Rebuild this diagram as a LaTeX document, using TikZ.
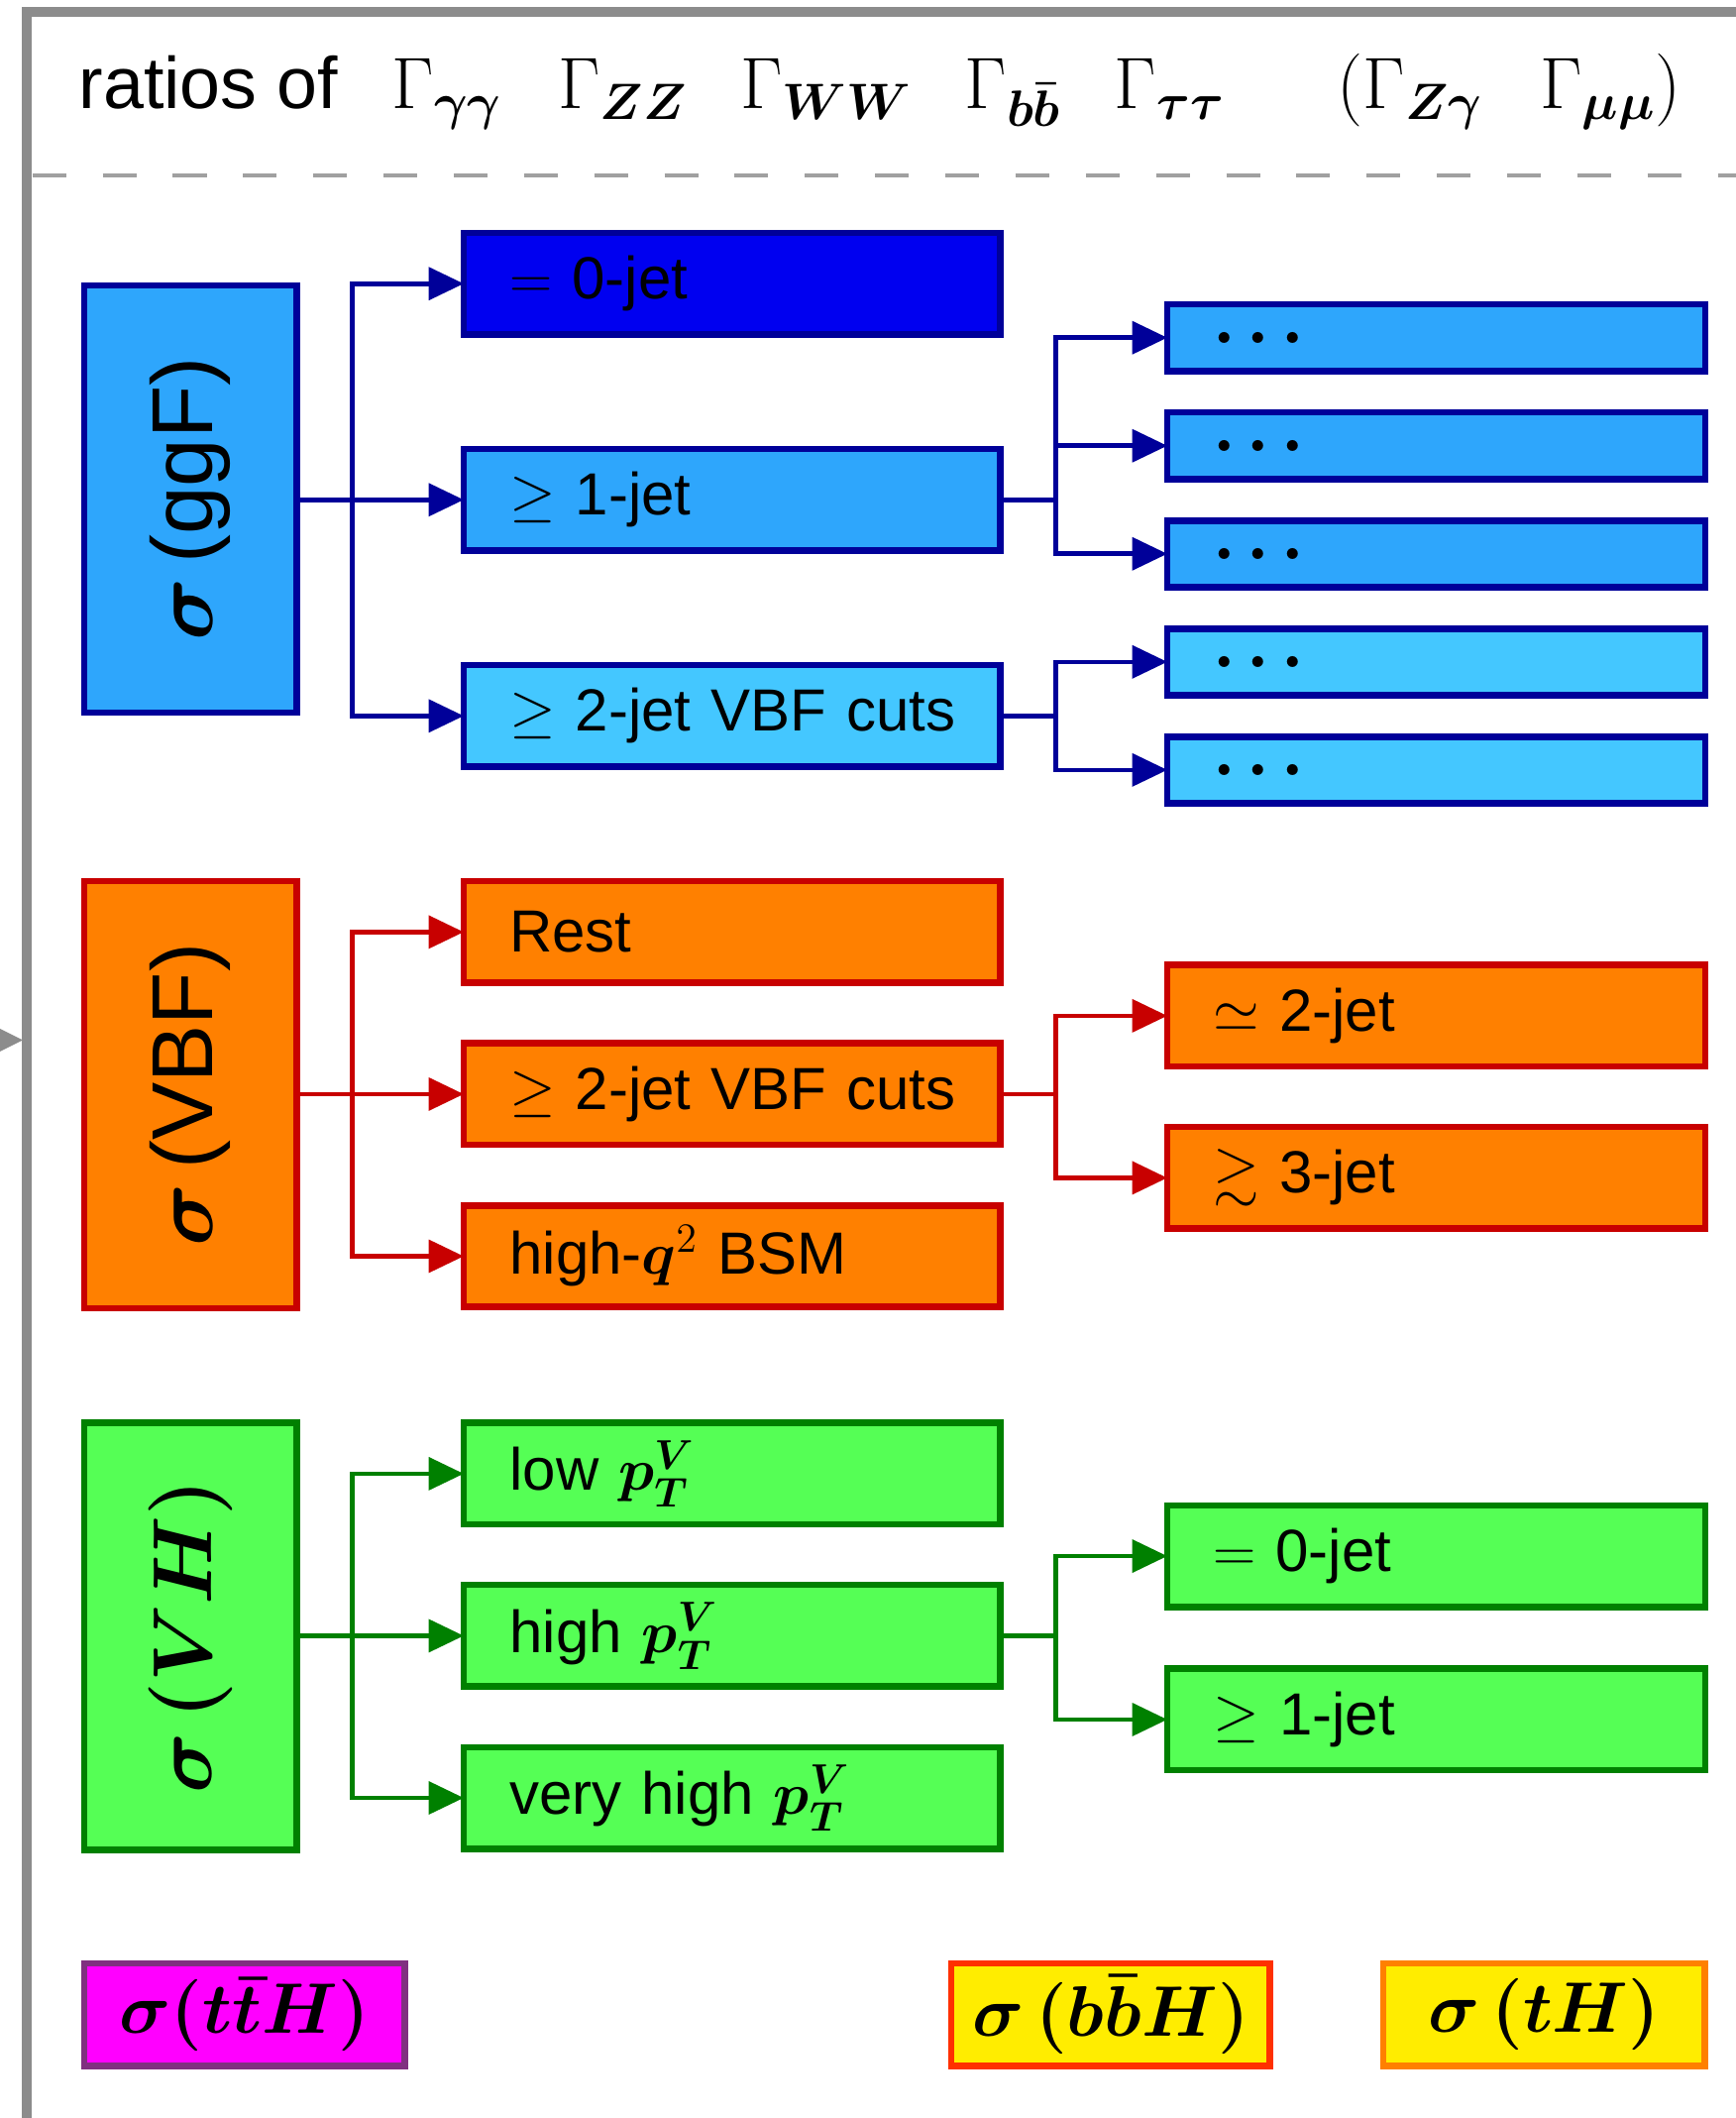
\RequirePackage{fix-cm}
\documentclass[tikz,border=0pt]{standalone}
\usepackage{amsmath,amssymb,bm}
\usepackage[no-math]{fontspec}
\setmainfont{Liberation Sans}
\usetikzlibrary{arrows.meta}
\definecolor{navy}{RGB}{0,0,153}
\definecolor{ggfblue}{RGB}{46,166,252}
\definecolor{zerojet}{RGB}{0,0,240}
\definecolor{cyanb}{RGB}{68,199,255}
\definecolor{orangef}{RGB}{255,128,0}
\definecolor{redb}{RGB}{200,0,0}
\definecolor{greenf}{RGB}{85,255,85}
\definecolor{greenb}{RGB}{0,128,0}
\definecolor{magf}{RGB}{255,0,255}
\definecolor{purb}{RGB}{128,48,128}
\definecolor{yelf}{RGB}{255,237,0}
\definecolor{bbhb}{RGB}{255,48,0}
\definecolor{thb}{RGB}{255,128,0}
\definecolor{framegray}{RGB}{140,140,140}
\definecolor{dashgray}{RGB}{160,160,160}
\newcommand\bdots{$\bm{\ldotp\ldotp\ldotp}$}
\begin{document}
\begin{tikzpicture}[x=0.5pt,y=-0.5pt,
  box/.style={draw, line width=2.4pt, outer sep=0pt, anchor=north west, inner xsep=17pt, inner ysep=0pt,
    align=left, font=\fontsize{22}{26}\selectfont},
  wide/.style={box, minimum width=198.6pt, text width=164.6pt},
  rwide/.style={box, minimum width=199.1pt, text width=165.1pt},
  tall/.style={minimum height=37.6pt},
  short/.style={minimum height=24.6pt},
  dots/.style={font=\fontsize{26}{30}\selectfont},
  side/.style={draw, line width=2.4pt, outer sep=0pt, anchor=north west, minimum width=78.6pt,
    minimum height=158pt, inner sep=0pt, font=\fontsize{32}{36}\selectfont},
  bottombox/.style={draw, line width=2.4pt, outer sep=0pt, anchor=north west, minimum height=38pt,
    inner sep=0pt, font=\fontsize{26.5}{30}\selectfont},
  arr/.style={line width=1.7pt, -{Triangle[length=13pt,width=12pt]}},
  ln/.style={line width=1.7pt}]
\useasboundingbox (0,0) rectangle (1285,1568);

% frame
\coordinate (fb) at (20,1580);
\coordinate (fc) at (20,9);
\coordinate (fr) at (1300,9);
\draw[framegray, line width=3.7pt] (fb) -- (fc) -- (fr);
\coordinate (dl) at (24,130);
\coordinate (dr) at (1300,130);
\draw[dashgray, line width=1.3pt, dash pattern=on 12.5pt off 13.5pt] (dl) -- (dr);
\coordinate (ein) at (-30,770);
\coordinate (eout) at (17,770);
\draw[framegray, line width=1.5pt, -{Triangle[length=8.5pt,width=8pt]}] (ein) -- (eout);

% header
\node[anchor=base west, inner sep=0pt, font=\fontsize{27}{32}\selectfont] (head) at (58,80)
 {\makebox[116pt][l]{ratios of}%
  \makebox[61.5pt][l]{$\Gamma_{\bm{\gamma\gamma}}$}%
  \makebox[67.5pt][l]{$\Gamma_{\bm{ZZ}}$}%
  \makebox[83pt][l]{$\Gamma_{\bm{WW}}$}%
  \makebox[55.5pt][l]{$\Gamma_{\bm{b\bar b}}$}%
  \makebox[82.5pt][l]{$\Gamma_{\bm{\tau\tau}}$}%
  \makebox[75pt][l]{$(\Gamma_{\bm{Z\gamma}}$}%
  $\Gamma_{\bm{\mu\mu}})$};

% ggF
\node[side, fill=ggfblue, draw=navy] (ggF) at (62.4,211.4) {\rotatebox{90}{$\bm{\sigma}$\,(ggF)}};
\node[wide, tall, fill=zerojet, draw=navy] (g0) at (343.4,172.4) {$=$ 0-jet};
\node[wide, tall, fill=ggfblue, draw=navy] (g1) at (343.4,332.4) {$\geq$ 1-jet};
\node[wide, tall, fill=cyanb, draw=navy] (g2) at (343.4,492.4) {\mbox{$\geq$ 2-jet VBF cuts}};
\node[rwide, short, dots, fill=ggfblue, draw=navy] (r1) at (864.4,225.4) {\bdots};
\node[rwide, short, dots, fill=ggfblue, draw=navy] (r2) at (864.4,305.4) {\bdots};
\node[rwide, short, dots, fill=ggfblue, draw=navy] (r3) at (864.4,385.4) {\bdots};
\node[rwide, short, dots, fill=cyanb, draw=navy] (r4) at (864.4,465.4) {\bdots};
\node[rwide, short, dots, fill=cyanb, draw=navy] (r5) at (864.4,545.4) {\bdots};
\coordinate (jg) at (261,370);
\coordinate (kg) at (782,370);
\coordinate (kg2) at (782,530);
\begin{scope}[navy]
\draw[arr] (ggF.east |- g1.west) -- (g1.west);
\draw[arr] (jg) |- (g0.west);
\draw[arr] (jg) |- (g2.west);
\draw[ln] (g1.east) -- (kg);
\draw[arr] (kg) |- (r1.west);
\draw[arr] (kg) |- (r2.west);
\draw[arr] (kg) |- (r3.west);
\draw[ln] (g2.east) -- (kg2);
\draw[arr] (kg2) |- (r4.west);
\draw[arr] (kg2) |- (r5.west);
\end{scope}

% VBF
\node[side, fill=orangef, draw=redb] (vbf) at (62.4,652.4) {\rotatebox{90}{$\bm{\sigma}$\,(VBF)}};
\node[wide, tall, fill=orangef, draw=redb] (v0) at (343.4,652.4) {Rest};
\node[wide, tall, fill=orangef, draw=redb] (v1) at (343.4,772.4) {\mbox{$\geq$ 2-jet VBF cuts}};
\node[wide, tall, fill=orangef, draw=redb] (v2) at (343.4,892.4) {high-$\bm{q}^2$ BSM};
\node[rwide, tall, fill=orangef, draw=redb] (vr1) at (864.4,714.4) {$\simeq$ 2-jet};
\node[rwide, tall, fill=orangef, draw=redb] (vr2) at (864.4,834.4) {$\gtrsim$ 3-jet};
\coordinate (jv) at (261,810);
\coordinate (kv) at (782,810);
\begin{scope}[redb]
\draw[arr] (vbf.east |- v1.west) -- (v1.west);
\draw[arr] (jv) |- (v0.west);
\draw[arr] (jv) |- (v2.west);
\draw[ln] (v1.east) -- (kv);
\draw[arr] (kv) |- (vr1.west);
\draw[arr] (kv) |- (vr2.west);
\end{scope}

% VH
\node[side, fill=greenf, draw=greenb, font=\fontsize{31}{35}\selectfont] (vh) at (62.4,1053.4) {\rotatebox{90}{$\bm{\sigma\,(VH)}$}};
\node[wide, tall, fill=greenf, draw=greenb] (h0) at (343.4,1053.4) {low $\bm{p_T^V}$};
\node[wide, tall, fill=greenf, draw=greenb] (h1) at (343.4,1173.4) {high $\bm{p_T^V}$};
\node[wide, tall, fill=greenf, draw=greenb] (h2) at (343.4,1293.4) {very high $\bm{p_T^V}$};
\node[rwide, tall, fill=greenf, draw=greenb] (hr1) at (864.4,1114.4) {$=$ 0-jet};
\node[rwide, tall, fill=greenf, draw=greenb] (hr2) at (864.4,1235.4) {$\geq$ 1-jet};
\coordinate (jh) at (261,1211);
\coordinate (kh) at (782,1211);
\begin{scope}[greenb]
\draw[arr] (vh.east |- h1.west) -- (h1.west);
\draw[arr] (jh) |- (h0.west);
\draw[arr] (jh) |- (h2.west);
\draw[ln] (h1.east) -- (kh);
\draw[arr] (kh) |- (hr1.west);
\draw[arr] (kh) |- (hr2.west);
\end{scope}

% bottom
\node[bottombox, minimum width=118.6pt, fill=magf, draw=purb] (tth) at (62.4,1453.4) {$\bm{\sigma(t\bar{t}H)}$};
\node[bottombox, minimum width=118pt, fill=yelf, draw=bbhb] (bbh) at (704.4,1453.4) {$\bm{\sigma\,(b\bar{b}H)}$};
\node[bottombox, minimum width=119pt, fill=yelf, draw=thb] (th) at (1024.4,1453.4) {$\bm{\sigma\,(tH)}$};
\end{tikzpicture}
\end{document}
